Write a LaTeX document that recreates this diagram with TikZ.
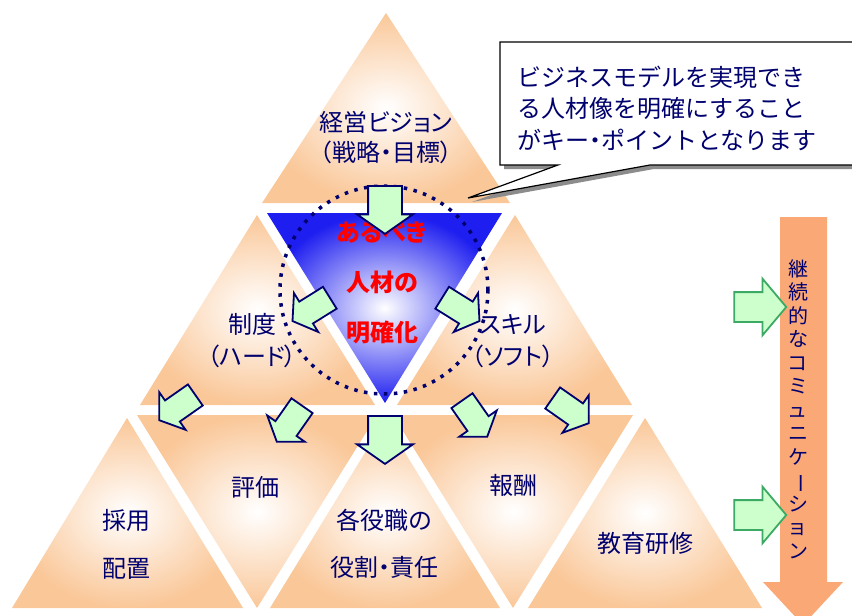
\documentclass[tikz,border=0pt]{standalone}
\usepackage{fontspec}
\usepackage{graphicx}
\setmainfont{Noto Sans CJK JP}[RawFeature=+palt]
\newfontfamily\boxfont{Noto Sans CJK JP}
\usetikzlibrary{shapes.arrows}

\definecolor{textnavy}{RGB}{0,0,110}
\definecolor{triorange}{RGB}{250,199,152}
\definecolor{midblue}{RGB}{30,30,240}
\definecolor{palegreen}{RGB}{204,255,204}
\definecolor{edgegreen}{RGB}{60,170,100}
\definecolor{commorange}{RGB}{250,168,118}

\begin{document}
\begin{tikzpicture}[x=1pt,y=-1pt,
  tri/.style={shading=radial, inner color=white, outer color=triorange},
  lbl/.style={text=textnavy, font=\fontsize{24}{30}\selectfont, align=center, inner sep=0pt},
  goal/.style={text=red, font=\fontsize{24}{50}\selectfont\bfseries, align=center, inner sep=0pt},
  flow/.style={single arrow, draw=textnavy, fill=palegreen, line width=1.8pt, inner xsep=0pt, inner ysep=16pt,
    minimum height=48pt, single arrow head extend=11pt, single arrow tip angle=110},
  slantarrow/.style={flow, minimum height=44pt, inner ysep=12pt, single arrow head extend=10pt},
  feed/.style={single arrow, draw=edgegreen, fill=palegreen, line width=1.8pt, inner xsep=0pt, inner ysep=14pt,
    minimum height=52pt, single arrow head extend=13.5pt, single arrow tip angle=100}]
\useasboundingbox (0,0) rectangle (852,616);
\fill[white] (0,0) rectangle (852,616);

% top row
\path[tri] (386,13) -- (510,203) -- (262,203) -- cycle;
% middle row
\path[tri] (257,215) -- (375,405) -- (140,405) -- cycle;
\path[tri] (515,215) -- (632,405) -- (397,405) -- cycle;
\path[shading=radial, inner color=white, outer color=midblue] (267,213) -- (502,213) -- (385,403) -- cycle;
% bottom row
\path[tri] (127,418) -- (243,608) -- (12,608) -- cycle;
\path[tri] (137,415) -- (377,415) -- (257,608) -- cycle;
\path[tri] (385,420) -- (500,608) -- (270,608) -- cycle;
\path[tri] (393,415) -- (633,415) -- (513,608) -- cycle;
\path[tri] (645,418) -- (762,608) -- (528,608) -- cycle;

% labels
\node[lbl] (vision) at (386,138) {経営ビジョン\\（戦略・目標）};
\node[lbl, font=\fontsize{24}{32}\selectfont] (hard) at (252,341) {制度\\（ハード）};
\node[lbl, font=\fontsize{24}{32}\selectfont] (soft) at (513,341) {スキル\\（ソフト）};
\node[goal] (ideal) at (382,283) {あるべき\\人材の\\明確化};
\node[lbl, font=\fontsize{24}{48}\selectfont] (hire) at (126,544) {採用\\配置};
\node[lbl] (eval) at (255,487) {評価};
\node[lbl, font=\fontsize{24}{47}\selectfont] (role) at (384,544) {各役職の\\役割・責任};
\node[lbl] (pay) at (513,485) {報酬};
\node[lbl] (train) at (645,543) {教育研修};

% dotted ring
\draw[textnavy, line width=3.5pt, dash pattern=on 3.5pt off 6.5pt] (384,290) circle (104);

% arrows
\node[flow, rotate=-90] (down1) at (385,204) {};
\node[slantarrow, rotate=-148] (tohard) at (315,307) {};
\node[slantarrow, rotate=-32] (tosoft) at (457,307) {};
\node[slantarrow, rotate=-145] (tohire) at (181,405) {};
\node[slantarrow, rotate=-125] (toeval) at (292,420) {};
\node[flow, rotate=-90] (down2) at (385,434) {};
\node[slantarrow, rotate=-55] (topay) at (472,415) {};
\node[slantarrow, rotate=-35] (totrain) at (567,408) {};

% callout
\fill[black!45] (504,46) -- (860,46) -- (860,169) -- (654,169) -- (472,202) -- (562,169) -- (504,169) -- cycle;
\draw[fill=white, line width=1.2pt] (500,42) -- (860,42) -- (860,165) -- (650,165) -- (468,198) -- (558,165) -- (500,165) -- cycle;
\node[lbl, anchor=west, align=left, font=\boxfont\fontsize{24}{31.5}\selectfont] (note) at (517,108)
  {ビジネスモデルを実現でき\\る人材像を明確にすること\\がキー{\rmfamily ・}ポイントとなります};

% communication
\fill[commorange] (780,217) -- (827,217) -- (827,582) -- (843,582) -- (803,625) -- (763,582) -- (780,582) -- cycle;
\node[feed] (feed1) at (754,307) {};
\node[feed] (feed2) at (754,515) {};
\node[lbl, font=\fontsize{20}{23.5}\selectfont] (comm) at (798,409)
  {継\\続\\的\\な\\コ\\ミ\\ュ\\ニ\\ケ\\\rotatebox[origin=c]{-90}{ー}\\シ\\ョ\\ン};
\end{tikzpicture}
\end{document}
